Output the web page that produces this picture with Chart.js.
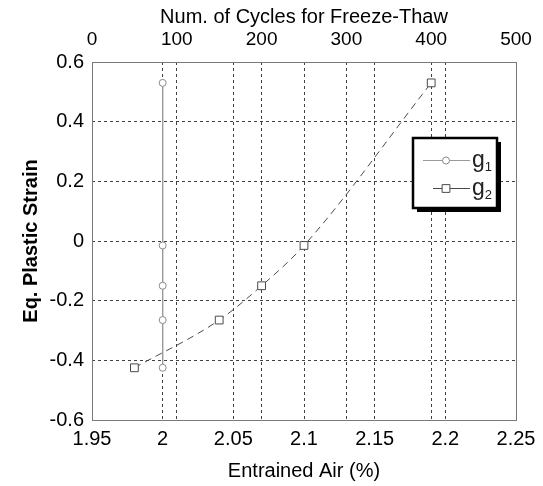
<!DOCTYPE html>
<html>
<head>
<meta charset="utf-8">
<script src="https://cdn.jsdelivr.net/npm/chart.js@4.4.0/dist/chart.umd.min.js"></script>
<style>
  html, body { margin: 0; padding: 0; background: #fff; }
  canvas { display: block; }
</style>
</head>
<body>
<canvas id="strainChart" width="543" height="486"></canvas>
<script>
// axis ticks
const airTicks = [1.95, 2, 2.05, 2.1, 2.15, 2.2, 2.25];
const cycleTicks = [0, 100, 200, 300, 400, 500];
const strainTicks = [-0.6, -0.4, -0.2, 0, 0.2, 0.4, 0.6];

// g1 - all at 2 % entrained air
const g1Air = [2, 2, 2, 2, 2];
const g1Strain = [0.53, -0.015, -0.15, -0.265, -0.425];

// g2
const g2Air = [1.98, 2.04, 2.07, 2.10, 2.19];
const g2Strain = [-0.425, -0.265, -0.15, -0.015, 0.53];

const FONT = '"Liberation Sans", Arial, sans-serif';
const GRID = '#404040';

function toPoints(xs, ys) {
    return xs.map((x, i) => ({ x: x, y: ys[i] }));
}

function fixTicks(values) {
    return function(scale) {
        scale.ticks = values.map(v => ({ value: v }));
    };
}

// gray frame round the plot + the boxed key with its drop shadow
const frameAndKey = {
    id: 'frameAndKey',
    afterDatasetsDraw(chart) {
        const { ctx, chartArea: a } = chart;
        ctx.save();
        ctx.strokeStyle = '#7a7a7a';
        ctx.lineWidth = 1;
        ctx.strokeRect(Math.round(a.left) + 0.5, Math.round(a.top) + 0.5,
            Math.round(a.right - a.left), Math.round(a.bottom - a.top));

        const bx = 413, by = 138, bw = 84, bh = 70;
        ctx.fillStyle = '#000';
        ctx.fillRect(bx + 4, by + 4, bw, bh);
        ctx.fillStyle = '#fff';
        ctx.fillRect(bx, by, bw, bh);
        ctx.strokeStyle = '#000';
        ctx.lineWidth = 2.5;
        ctx.strokeRect(bx, by, bw, bh);

        const rows = [
            { y: 160, x0: 423 },
            { y: 188, x0: 433 }
        ];
        chart.data.datasets.forEach((ds, i) => {
            const r = rows[i];
            ctx.strokeStyle = ds.borderColor;
            ctx.lineWidth = 1;
            ctx.beginPath();
            ctx.moveTo(r.x0, r.y + 0.5);
            ctx.lineTo(470, r.y + 0.5);
            ctx.stroke();

            ctx.fillStyle = '#fff';
            ctx.strokeStyle = ds.pointBorderColor;
            ctx.beginPath();
            if (ds.pointStyle === 'circle') {
                ctx.arc(446, r.y + 0.5, ds.pointRadius, 0, Math.PI * 2);
            } else {
                const s = Math.SQRT1_2 * ds.pointRadius;
                ctx.rect(446 - s, r.y + 0.5 - s, 2 * s, 2 * s);
            }
            ctx.fill();
            ctx.stroke();

            ctx.fillStyle = '#222';
            ctx.textBaseline = 'alphabetic';
            ctx.textAlign = 'left';
            ctx.font = '23px ' + FONT;
            const main = ds.label.charAt(0);
            ctx.fillText(main, 472, r.y + 7);
            const w = ctx.measureText(main).width;
            ctx.font = '13px ' + FONT;
            ctx.fillText(ds.label.slice(1), 472 + w, r.y + 11);
        });
        ctx.restore();
    }
};

new Chart(document.getElementById('strainChart'), {
    type: 'scatter',
    data: {
        datasets: [
            {
                label: 'g1',
                data: toPoints(g1Air, g1Strain),
                showLine: true,
                borderColor: '#9a9a9a',
                borderWidth: 1,
                pointStyle: 'circle',
                pointRadius: 3.5,
                pointBackgroundColor: '#fff',
                pointBorderColor: '#8a8a8a',
                pointBorderWidth: 1
            },
            {
                label: 'g2',
                data: toPoints(g2Air, g2Strain),
                showLine: true,
                cubicInterpolationMode: 'monotone',
                borderColor: '#4a4a4a',
                borderWidth: 1,
                borderDash: [7, 5],
                pointStyle: 'rect',
                pointRadius: 5.5,
                pointBackgroundColor: '#fff',
                pointBorderColor: '#4a4a4a',
                pointBorderWidth: 1
            }
        ]
    },
    options: {
        responsive: false,
        animation: false,
        events: [],
        layout: { padding: { left: 0, right: 27, top: 0, bottom: 0 } },
        plugins: {
            legend: { display: false },
            tooltip: { enabled: false }
        },
        scales: {
            x: {
                type: 'linear',
                position: 'bottom',
                min: 1.95,
                max: 2.25,
                afterBuildTicks: fixTicks(airTicks),
                afterFit: s => { s.height = 66; },
                grid: { color: GRID, drawTicks: false },
                border: { display: false, dash: [3, 3] },
                ticks: {
                    padding: 7,
                    maxRotation: 0,
                    autoSkip: false,
                    color: '#000',
                    font: { family: FONT, size: 20 },
                    callback: v => String(v)
                },
                title: {
                    display: true,
                    text: 'Entrained Air (%)',
                    color: '#000',
                    font: { family: FONT, size: 20 },
                    padding: { top: 0, bottom: 3 }
                }
            },
            x2: {
                type: 'linear',
                position: 'top',
                min: 0,
                max: 500,
                afterBuildTicks: fixTicks(cycleTicks),
                afterFit: s => { s.height = 62; },
                grid: { color: GRID, drawTicks: false },
                border: { display: false, dash: [3, 3] },
                ticks: {
                    padding: 11,
                    maxRotation: 0,
                    autoSkip: false,
                    color: '#000',
                    font: { family: FONT, size: 19 },
                    callback: v => String(v)
                },
                title: {
                    display: true,
                    text: 'Num. of Cycles for Freeze-Thaw',
                    color: '#000',
                    font: { family: FONT, size: 20 },
                    padding: { top: 5, bottom: 0 }
                }
            },
            y: {
                type: 'linear',
                position: 'left',
                min: -0.6,
                max: 0.6,
                afterBuildTicks: fixTicks(strainTicks),
                afterFit: s => { s.width = 92; },
                grid: { color: GRID, drawTicks: false },
                border: { display: false, dash: [3, 3] },
                ticks: {
                    padding: 8,
                    color: '#000',
                    font: { family: FONT, size: 20 },
                    callback: v => String(v)
                },
                title: {
                    display: true,
                    text: 'Eq. Plastic Strain',
                    color: '#000',
                    font: { family: FONT, size: 20, weight: 'bold' },
                    padding: { top: 19, bottom: 0 }
                }
            }
        }
    },
    plugins: [frameAndKey]
});
</script>
</body>
</html>
